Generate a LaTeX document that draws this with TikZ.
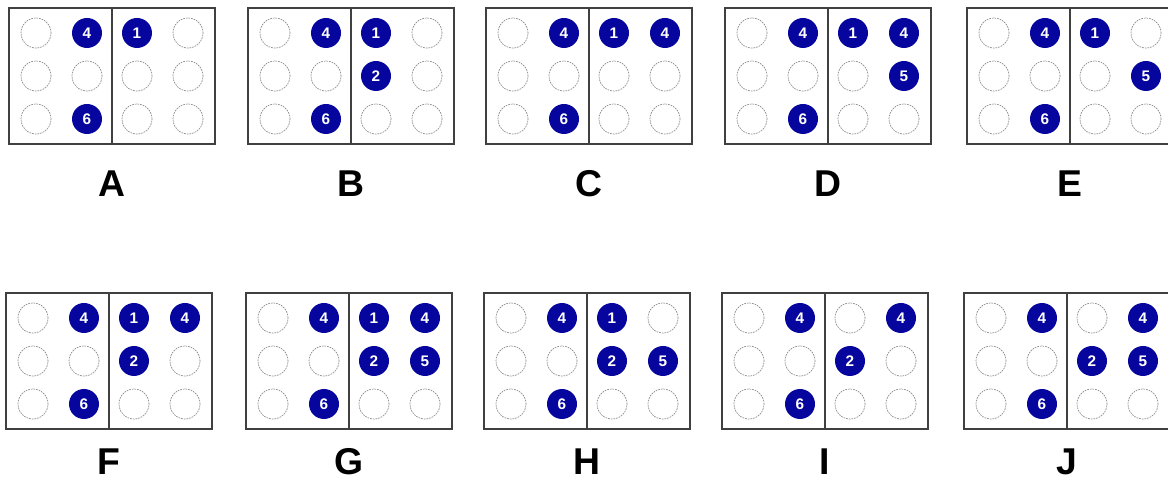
\documentclass[tikz,border=0pt]{standalone}
\usepackage{fontspec}
\setmainfont{Liberation Sans}

\definecolor{dotblue}{RGB}{6,6,158}

\tikzset{
    dotempty/.style={circle,draw=gray!90,dash pattern=on 1.3pt off 0.7pt,line width=0.5pt,minimum size=22.5pt,inner sep=0pt},
    dotfull/.style={circle,fill=dotblue,text=white,minimum size=22.5pt,inner sep=0pt,font=\fontsize{11.5}{12}\selectfont\bfseries},
    panelline/.style={draw=black!75,line width=0.8pt},
    letter/.style={inner sep=0pt,font=\fontsize{28}{30}\selectfont\bfseries}
}

% one braille cell: name, x and y of dot 1, raised dots
\makeatletter
\newcommand{\braillecell}[4]{%
    \foreach \d in {1,...,6} {
        \pgfmathtruncatemacro{\col}{(\d-1)/3}
        \pgfmathtruncatemacro{\row}{mod(\d-1,3)}
        \edef\dotcheck{\noexpand\in@{,\d,}{,#4,}}\dotcheck
        \ifin@
            \node (#1-\d) at ({#2+\col*51},{#3+\row*43}) [dotfull] {\d};
        \else
            \node (#1-\d) at ({#2+\col*51},{#3+\row*43}) [dotempty] {};
        \fi
    }
}
\makeatother

% one panel: letter, left x, top y, raised dots of the right cell
\newcommand{\braillepanel}[4]{%
    \draw[panelline] ({#2},{#3}) rectangle ({#2+206},{#3+136});
    \draw[panelline] ({#2+103},{#3}) -- ({#2+103},{#3+136});
    \braillecell{#1l}{#2+27}{#3+25}{4,6}
    \braillecell{#1r}{#2+128}{#3+25}{#4}
    \node (#1) at ({#2+103},{min(#3+176,462)}) [letter] {#1};
}

\begin{document}
\begin{tikzpicture}[x=0.75pt,y=-0.75pt]
\clip (0,0) rectangle (1168,484);
\fill[white] (0,0) rectangle (1168,484);

\braillepanel{A}{9}{8}{1}
\braillepanel{B}{248}{8}{1,2}
\braillepanel{C}{486}{8}{1,4}
\braillepanel{D}{725}{8}{1,4,5}
\braillepanel{E}{967}{8}{1,5}

\braillepanel{F}{6}{293}{1,2,4}
\braillepanel{G}{246}{293}{1,2,4,5}
\braillepanel{H}{484}{293}{1,2,5}
\braillepanel{I}{722}{293}{2,4}
\braillepanel{J}{964}{293}{2,4,5}
\end{tikzpicture}
\end{document}
